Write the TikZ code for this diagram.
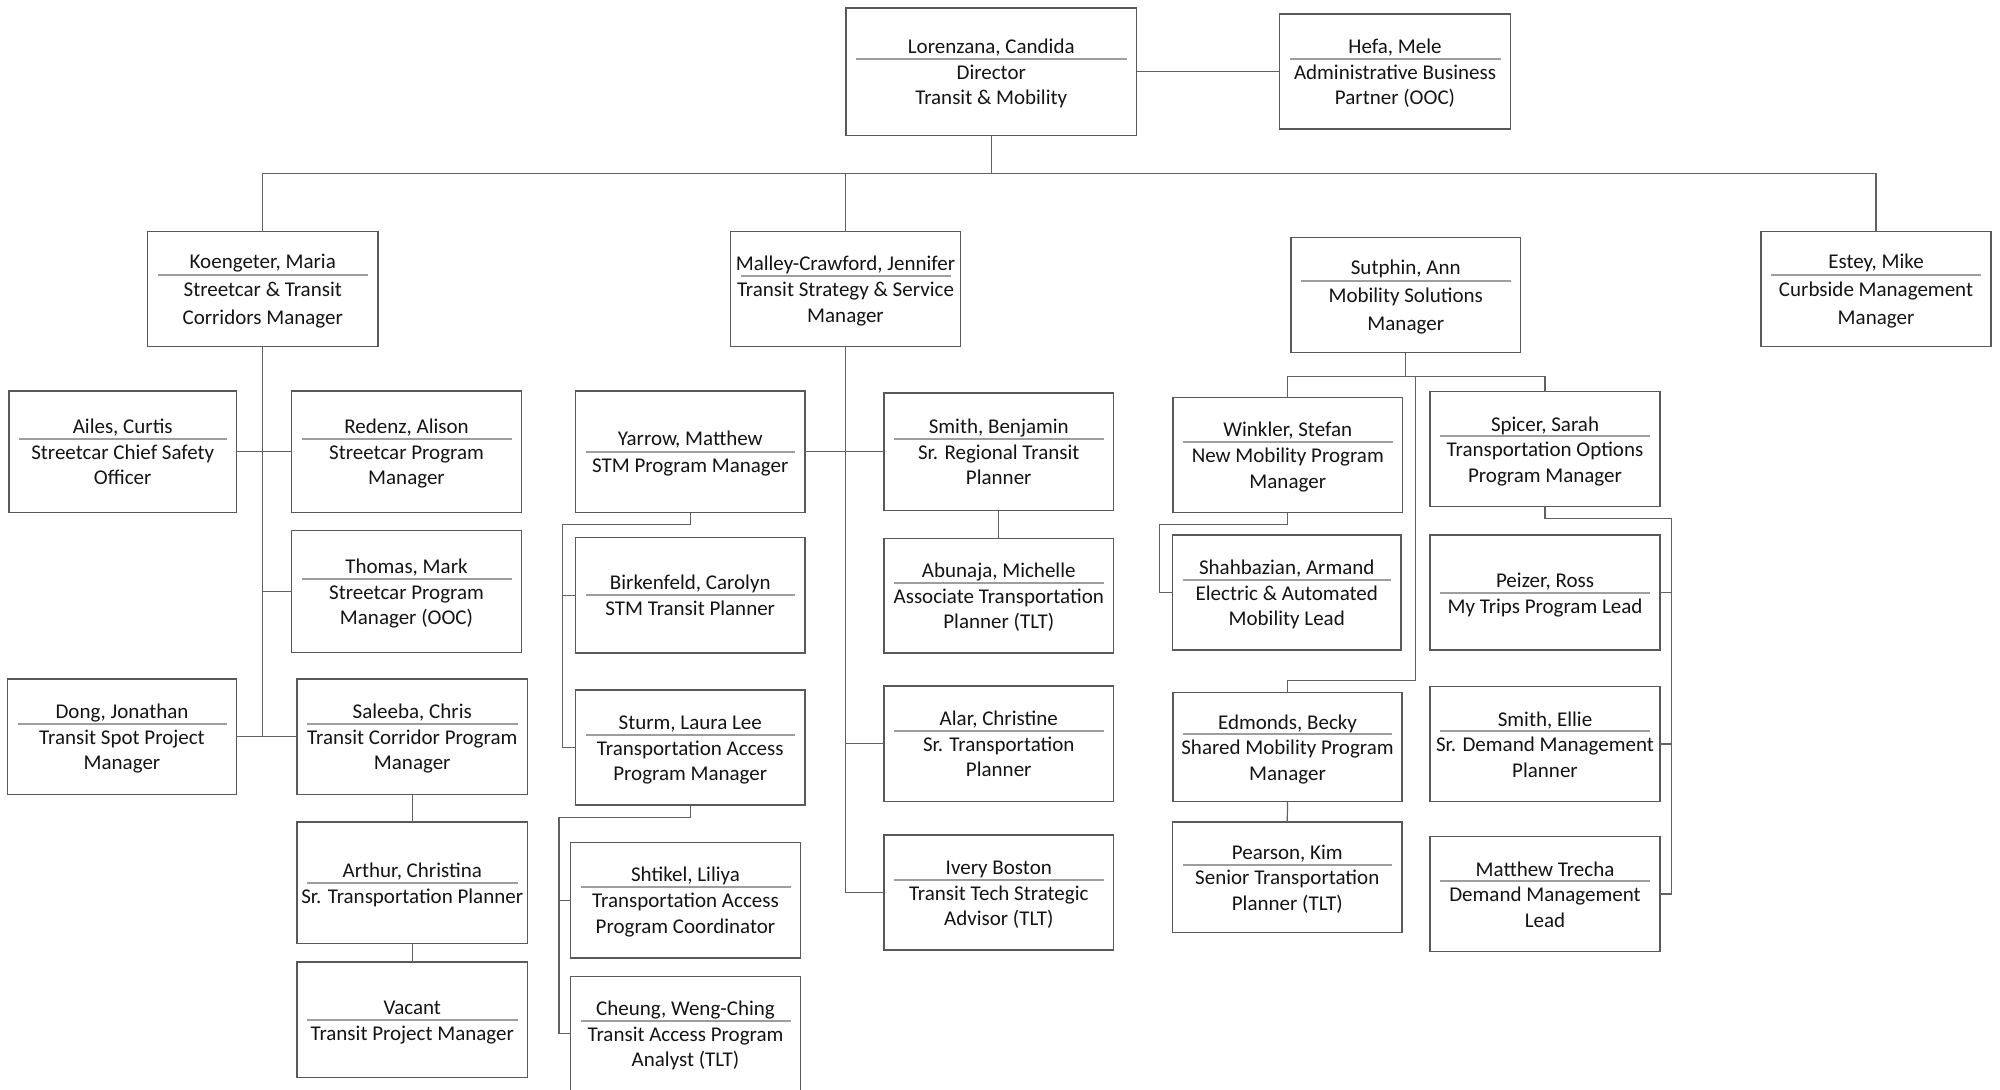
\documentclass[tikz,border=0pt]{standalone}
\usepackage{fontspec}
\setmainfont{Carlito}
\usepackage{tikz}
\tikzset{
  puesto/.style={draw=black!65,line width=0.6pt,inner sep=0pt,outer sep=0pt,align=center,text=black!92,text depth=2.4pt},
  raya/.style={draw=black!38,line width=1pt},
  enlace/.style={draw=black!62,line width=0.6pt}
}
% #1 interlineado, #2 nombre, #3-#6 esquinas (px), #7 lineas de cargo, #8 texto
\newcommand{\persona}[8][12.75]{%
  \pgfmathsetmacro\cx{(#3+#5)/2}\pgfmathsetmacro\cy{(#4+#6)/2}
  \node[puesto,minimum width={(#5-#3)*0.5pt},minimum height={(#6-#4)*0.5pt},font={\fontsize{10.5}{#1}\selectfont}] (#2) at (\cx,\cy) {\rule{0pt}{10pt}#8};
  \pgfmathsetmacro\ry{\cy-(#7-1)*#1}
  \draw[raya] (#3+10,\ry) -- (#5-10,\ry);
}

\begin{document}
\begin{tikzpicture}[x=0.5pt,y=-0.5pt]
\useasboundingbox (0,0) rectangle (2000,1089);
\clip (0,0) rectangle (2000,1089);
\persona{dir}{846}{8}{1136.5}{135.5}{2}{Lorenzana, Candida\\Director\\Transit \& Mobility}
\persona{hefa}{1279.5}{14}{1510.5}{129}{2}{Hefa, Mele\\Administrative Business\\Partner (OOC)}
\persona[14]{koen}{147.5}{231.5}{378}{346.5}{2}{Koengeter, Maria\\Streetcar \& Transit\\Corridors Manager}
\persona[12.9]{malley}{730.5}{231.5}{960.5}{346.5}{2}{Malley-Crawford, Jennifer\\Transit Strategy \& Service\\Manager}
\persona[14]{sutphin}{1291}{237.5}{1520.5}{352.5}{2}{Sutphin, Ann\\Mobility Solutions\\Manager}
\persona[14]{estey}{1761}{231.5}{1991}{346.5}{2}{Estey, Mike\\Curbside Management\\Manager}
\persona{ailes}{9}{391}{236.5}{512.5}{2}{Ailes, Curtis\\Streetcar Chief Safety\\Officer}
\persona{redenz}{291.5}{391}{521.5}{512.5}{2}{Redenz, Alison\\Streetcar Program\\Manager}
\persona{thomas}{291.5}{530.5}{521.5}{652.5}{2}{Thomas, Mark\\Streetcar Program\\Manager (OOC)}
\persona{dong}{7.5}{679}{236.5}{794.5}{2}{Dong, Jonathan\\Transit Spot Project\\Manager}
\persona{saleeba}{297}{679}{527.5}{794.5}{2}{Saleeba, Chris\\Transit Corridor Program\\Manager}
\persona[13.2]{arthur}{297}{822}{527.5}{943.5}{1}{Arthur, Christina\\Sr. Transportation Planner}
\persona[13]{vacant}{297}{962}{527.5}{1077.5}{1}{Vacant\\Transit Project Manager}
\persona[13.5]{yarrow}{575.5}{391}{805}{512.5}{1}{Yarrow, Matthew\\STM Program Manager}
\persona{bsmith}{884}{393}{1113.5}{510.5}{2}{Smith, Benjamin\\Sr. Regional Transit\\Planner}
\persona{abunaja}{884}{538.5}{1113.5}{653}{2}{Abunaja, Michelle\\Associate Transportation\\Planner (TLT)}
\persona{alar}{884}{686}{1113.5}{801.5}{2}{Alar, Christine\\Sr. Transportation\\Planner}
\persona{ivery}{884}{835}{1113.5}{950}{2}{Ivery Boston\\Transit Tech Strategic\\Advisor (TLT)}
\persona[13]{birken}{575.5}{537.5}{805}{653}{1}{Birkenfeld, Carolyn\\STM Transit Planner}
\persona{sturm}{575.5}{690}{805}{805}{2}{Sturm, Laura Lee\\Transportation Access\\Program Manager}
\persona[13]{shtikel}{570.5}{842.5}{800.5}{958}{2}{Shtikel, Liliya\\Transportation Access\\Program Coordinator}
\persona{cheung}{570.5}{976.5}{800.5}{1090.5}{2}{Cheung, Weng-Ching\\Transit Access Program\\Analyst (TLT)}
\persona[13]{winkler}{1173}{397.5}{1402.5}{512.5}{2}{Winkler, Stefan\\New Mobility Program\\Manager}
\persona{spicer}{1430}{391.5}{1660}{506.5}{2}{Spicer, Sarah\\Transportation Options\\Program Manager}
\persona{shahb}{1172.5}{535}{1401}{650}{2}{Shahbazian, Armand\\Electric \& Automated\\Mobility Lead}
\persona{edmonds}{1173}{692.5}{1402}{801.5}{2}{Edmonds, Becky\\Shared Mobility Program\\Manager}
\persona{pearson}{1172.5}{822}{1402}{932.5}{2}{Pearson, Kim\\Senior Transportation\\Planner (TLT)}
\persona[13]{peizer}{1430}{535}{1660}{650}{1}{Peizer, Ross\\My Trips Program Lead}
\persona{esmith}{1430}{686.5}{1660}{801.5}{2}{Smith, Ellie\\Sr. Demand Management\\Planner}
\persona{trecha}{1430}{836.5}{1660}{951.5}{2}{Matthew Trecha\\Demand Management\\Lead}
\coordinate (bus) at (0,173.5); \coordinate (sb) at (0,376.5);
\coordinate (yk) at (562.5,524.5); \coordinate (sk) at (559,817.5);
\coordinate (wk) at (1159.5,524.5); \coordinate (ek) at (1415.5,680.5); \coordinate (pk) at (1671.5,518.5);
\draw[enlace] (dir.east) -- (dir.east -| hefa.west);
\draw[enlace] (dir.south) -- (dir.south |- bus); \draw[enlace] (malley.north) -- (malley.north |- bus);
\draw[enlace] (koen.north) |- (estey.north |- bus) -- (estey.north);
\draw[enlace] (koen.south) -- (koen.south |- saleeba.west);
\draw[enlace] (ailes.east) -- (redenz.west); \draw[enlace] (koen.south |- thomas.west) -- (thomas.west);
\draw[enlace] (dong.east) -- (saleeba.west);
\draw[enlace] (saleeba.south) -- (arthur.north); \draw[enlace] (arthur.south) -- (vacant.north);
\draw[enlace] (malley.south) -- (malley.south |- ivery.west) -- (ivery.west);
\draw[enlace] (yarrow.east) -- (bsmith.west); \draw[enlace] (malley.south |- alar.west) -- (alar.west);
\draw[enlace] (bsmith.south) -- (abunaja.north);
\draw[enlace] (yarrow.south) |- (yk) |- (sturm.west); \draw[enlace] (yk |- birken.west) -- (birken.west);
\draw[enlace] (sturm.south) |- (sk) |- (cheung.west); \draw[enlace] (sk |- shtikel.west) -- (shtikel.west);
\draw[enlace] (sutphin.south) -- (sutphin.south |- sb);
\draw[enlace] (winkler.north) |- (spicer.north |- sb) -- (spicer.north);
\draw[enlace] (ek |- sb) -- (ek) -| (edmonds.north);
\draw[enlace] (winkler.south) |- (wk) |- (shahb.west);
\draw[enlace] (edmonds.south) -- (pearson.north);
\draw[enlace] (spicer.south) |- (pk) |- (trecha.east);
\draw[enlace] (pk |- peizer.east) -- (peizer.east); \draw[enlace] (pk |- esmith.east) -- (esmith.east);
\end{tikzpicture}
\end{document}
